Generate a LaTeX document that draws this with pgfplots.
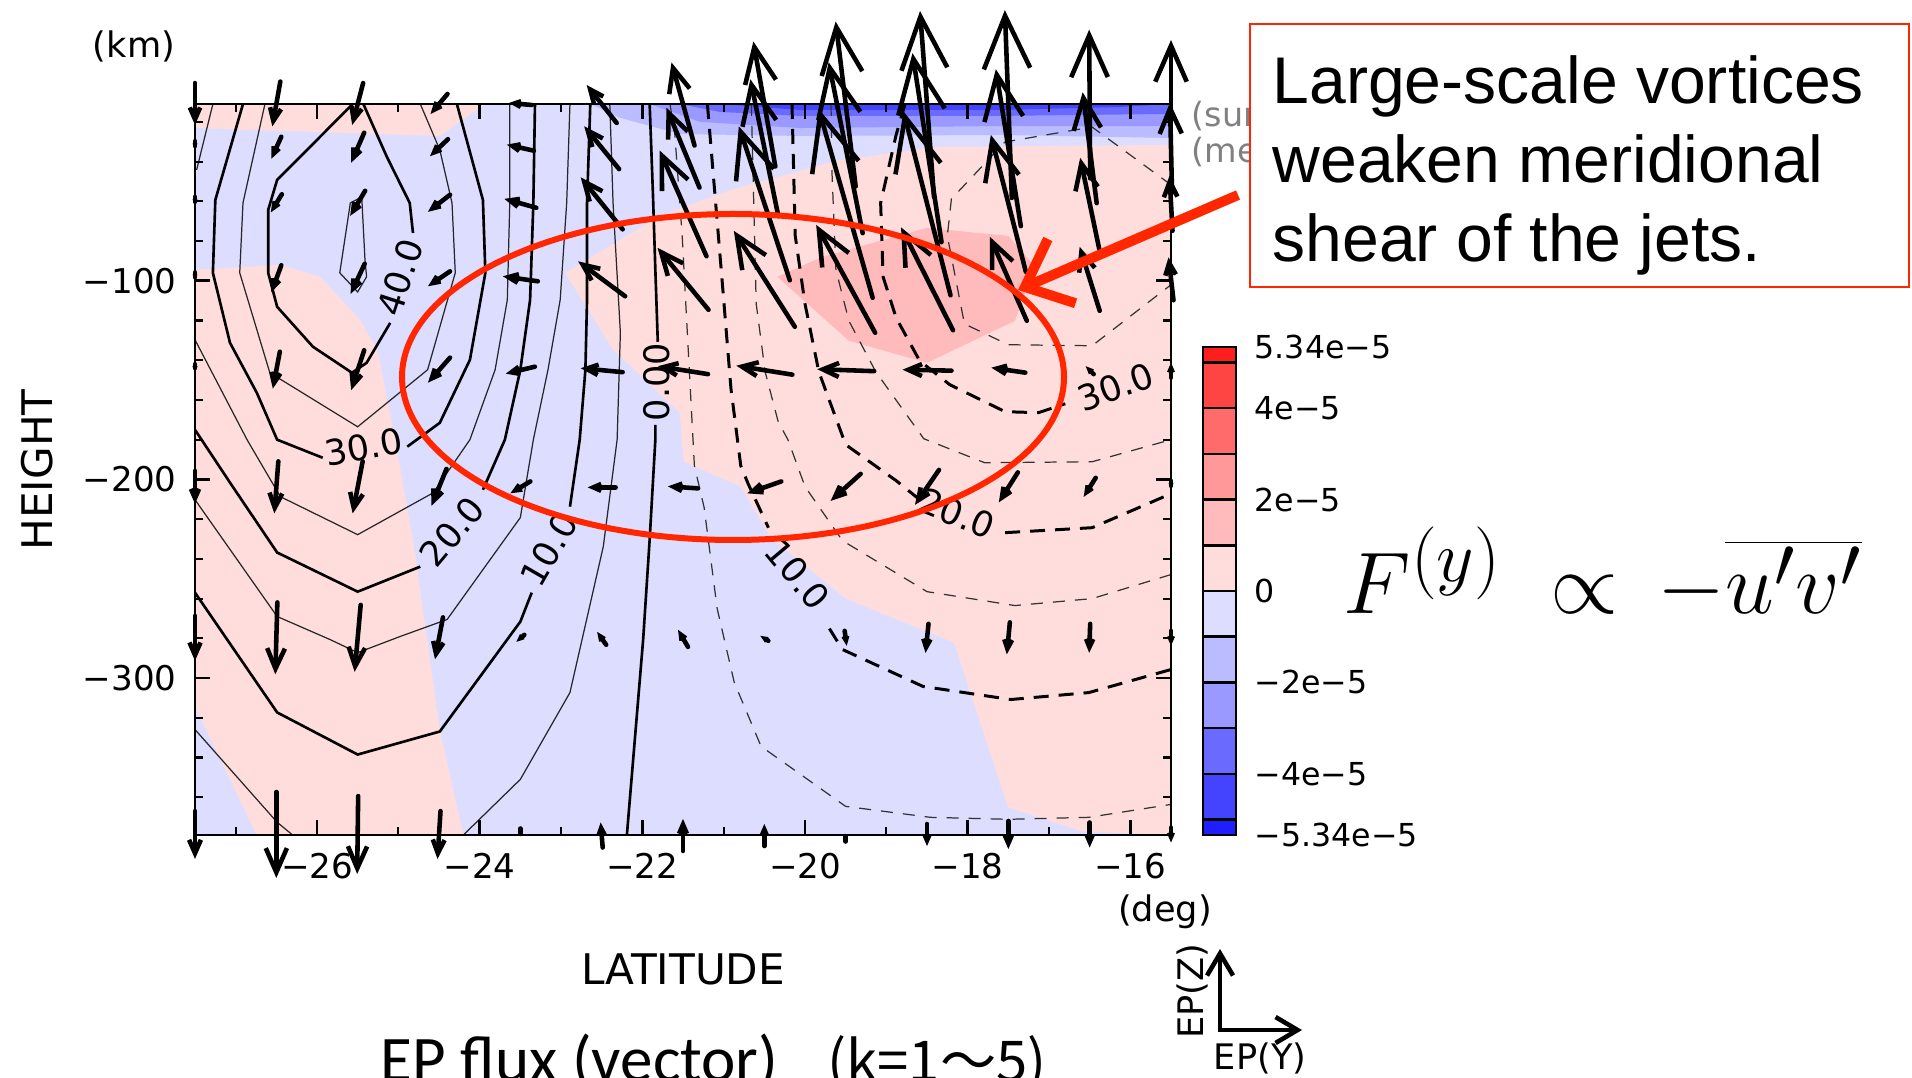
\documentclass[border=0pt]{standalone}
\usepackage{fontspec}
\setmainfont{Liberation Sans}
\newfontfamily\dv{DejaVu Sans}
\newfontfamily\carl{Carlito}
\newfontfamily\cjk{Noto Sans CJK JP}
\usepackage{pgfplots}
\usepackage{pgfplotstable}
\pgfplotsset{compat=1.18}
\usetikzlibrary{arrows.meta}

\definecolor{pk1}{RGB}{255,221,221}
\definecolor{pk2}{RGB}{255,187,187}
\definecolor{pk3}{RGB}{255,153,153}
\definecolor{pk4}{RGB}{255,106,106}
\definecolor{pk5}{RGB}{255,68,68}
\definecolor{pk6}{RGB}{255,30,30}
\definecolor{bl1}{RGB}{221,221,255}
\definecolor{bl2}{RGB}{187,187,255}
\definecolor{bl3}{RGB}{153,153,255}
\definecolor{bl4}{RGB}{106,106,255}
\definecolor{bl5}{RGB}{68,68,255}
\definecolor{bl6}{RGB}{30,30,255}
\definecolor{annot}{RGB}{255,38,0}

\pgfplotsset{
  thickc/.style={black, line width=0.75pt},
  thinc/.style={black!85, line width=0.35pt},
  thickd/.style={black, line width=0.85pt, dash pattern=on 1.5mm off 1mm},
  thind/.style={black!80, line width=0.35pt, dash pattern=on 1.2mm off 1mm},
}

% EP flux vectors: grid point (x,y) and components (u in deg, v in km)
\pgfplotstableread{
x y u v
-27.5 -11 0 -21.1
-26.5 -11 -0.098 -22.6
-25.5 -11 -0.135 -21.1
-24.5 -11 -0.209 -10.1
-23.5 -11 -0.283 1.0
-22.5 -11 -0.369 19.1
-21.5 -11 -0.283 41.8
-20.5 -11 -0.270 62.9
-19.5 -11 -0.246 83.0
-18.5 -11 -0.172 93.6
-17.5 -11 -0.086 94.6
-16.5 -11 -0.012 74.9
-15.5 -11 0 64.4
-27.5 -33 0 -1.5
-26.5 -33 -0.123 -11.1
-25.5 -33 -0.160 -15.1
-24.5 -33 -0.221 -8.6
-23.5 -33 -0.332 3.0
-22.5 -33 -0.430 21.6
-21.5 -33 -0.406 40.2
-20.5 -33 -0.344 68.9
-19.5 -33 -0.418 86.0
-18.5 -33 -0.357 95.1
-17.5 -33 -0.307 79.0
-16.5 -33 -0.172 55.8
-15.5 -33 -0.025 45.3
-27.5 -61 0 -1.5
-26.5 -61 -0.135 -9.1
-25.5 -61 -0.184 -12.6
-24.5 -61 -0.271 -8.6
-23.5 -61 -0.393 4.5
-22.5 -61 -0.516 26.2
-21.5 -61 -0.578 53.3
-20.5 -61 -0.627 77.5
-19.5 -61 -0.664 95.1
-18.5 -61 -0.578 92.6
-17.5 -61 -0.430 68.9
-16.5 -61 -0.234 45.8
-15.5 -61 -0.037 27.7
-27.5 -99 0 -1.5
-26.5 -99 -0.123 -13.6
-25.5 -99 -0.172 -15.1
-24.5 -99 -0.271 -7.5
-23.5 -99 -0.430 2.5
-22.5 -99 -0.578 17.6
-21.5 -99 -0.627 31.2
-20.5 -99 -0.750 48.3
-19.5 -99 -0.725 54.3
-18.5 -99 -0.639 51.8
-17.5 -99 -0.455 42.3
-16.5 -99 -0.246 32.2
-15.5 -99 -0.061 21.6
-27.5 -145 0 -2.0
-26.5 -145 -0.086 -18.6
-25.5 -145 -0.160 -20.1
-24.5 -145 -0.271 -12.6
-23.5 -145 -0.357 -3.5
-22.5 -145 -0.516 2.0
-21.5 -145 -0.615 4.0
-20.5 -145 -0.689 4.5
-19.5 -145 -0.701 1.0
-18.5 -145 -0.602 0.5
-17.5 -145 -0.418 2.5
-16.5 -145 -0.098 4.0
-15.5 -145 0 7.5
-27.5 -204 0 -16.6
-26.5 -204 -0.049 -26.2
-25.5 -204 -0.123 -26.2
-24.5 -204 -0.184 -18.6
-23.5 -204 -0.246 -6.0
-22.5 -204 -0.344 0
-21.5 -204 -0.369 1.0
-20.5 -204 -0.418 -6.0
-19.5 -204 -0.369 -13.6
-18.5 -204 -0.295 -17.6
-17.5 -204 -0.234 -15.1
-16.5 -204 -0.148 -9.6
-15.5 -204 0 -1.5
-27.5 -280 0 -22.6
-26.5 -280 -0.025 -36.2
-25.5 -280 -0.074 -33.7
-24.5 -280 -0.098 -21.1
-23.5 -280 -0.098 -3.5
-22.5 -280 -0.111 6.5
-21.5 -280 -0.123 8.6
-20.5 -280 -0.098 2.5
-19.5 -280 0.025 -7.5
-18.5 -280 -0.037 -14.6
-17.5 -280 -0.037 -16.1
-16.5 -280 -0.012 -14.6
-15.5 -280 0 -7.5
-27.5 -379 0 -24.1
-26.5 -379 0 -43.3
-25.5 -379 -0.012 -39.2
-24.5 -379 -0.037 -24.1
-23.5 -379 0 -1.5
-22.5 -379 -0.025 12.6
-21.5 -379 0 16.1
-20.5 -379 0 11.1
-19.5 -379 0 1.5
-18.5 -379 0 -11.1
-17.5 -379 0 -14.1
-16.5 -379 0 -12.6
-15.5 -379 0 -7.5
}\epflux

\begin{document}
\begin{tikzpicture}
\useasboundingbox (0,0) rectangle (191.2mm,107.7mm);
\begin{axis}[
  at={(19.5mm,24.2mm)}, anchor=south west,
  scale only axis, width=97.6mm, height=73.1mm,
  xmin=-27.5, xmax=-15.5, ymin=-379, ymax=-11,
  clip=false, axis on top,
  axis line style={line width=0.8pt},
  xtick={-26,-24,-22,-20,-18,-16},
  xticklabels={−26,−24,−22,−20,−18,−16},
  minor xtick={-27,-25,-23,-21,-19,-17},
  ytick={-300,-200,-100},
  yticklabels={−300,−200,−100},
  minor ytick={-360,-340,-320,-280,-260,-240,-220,-180,-160,-140,-120,-80,-60,-40,-20},
  tick align=inside,
  major tick length=1.5mm, minor tick length=0.8mm,
  major tick style={black, line width=0.8pt},
  minor tick style={black, line width=0.6pt},
  xticklabel style={font=\dv\fontsize{9.7}{11}\selectfont, yshift=-0.6mm},
  yticklabel style={font=\dv\fontsize{9.7}{11}\selectfont, xshift=-0.6mm},
  point meta min=0, point meta max=1000,
]
% ---- shading
\addplot[fill=bl1, draw=none] coordinates {(-27.5,-379) (-15.5,-379) (-15.5,-11) (-27.5,-11)} -- cycle;
\addplot[fill=pk1, draw=none] coordinates {(-27.5,-11) (-27.5,-23.1) (-24.49,-27.1) (-23.99,-12.5) (-23.87,-11)} -- cycle;
\addplot[fill=pk1, draw=none] coordinates {(-27.5,-94.5) (-26.45,-92.0) (-25.96,-98.0) (-25.47,-119.7) (-25.26,-134.7) (-25.19,-148.3) (-25.04,-180.0) (-24.82,-230.3) (-24.49,-325.9) (-24.20,-379) (-26.74,-379) (-27.5,-314.3)} -- cycle;
\addplot[fill=pk1, draw=none] coordinates {(-15.5,-31.6) (-18.34,-32.6) (-19.57,-39.2) (-20.92,-54.3) (-21.78,-67.3) (-22.95,-96.0) (-22.36,-134.7) (-21.54,-166.4) (-21.49,-191.1) (-20.79,-203.6) (-20.42,-229.3) (-19.50,-260.0) (-18.17,-282.1) (-17.50,-365.1) (-16.59,-377.2) (-15.5,-379)} -- cycle;
\addplot[fill=pk2, draw=none] coordinates {(-20.34,-98.0) (-19.79,-88.0) (-18.50,-73.4) (-17.50,-77.4) (-17.17,-93.0) (-17.42,-120.2) (-18.50,-141.3) (-19.46,-130.2)} -- cycle;
\addplot[fill=bl2, draw=none] coordinates {(-22.64,-11) (-22.27,-18.0) (-21.54,-26.1) (-20.06,-27.1) (-17.60,-26.6) (-15.5,-28.1) (-15.5,-11)} -- cycle;
\addplot[fill=bl3, draw=none] coordinates {(-21.91,-11) (-21.29,-20.0) (-20.06,-23.1) (-17.60,-22.1) (-15.5,-22.1) (-15.5,-11)} -- cycle;
\addplot[fill=bl4, draw=none] coordinates {(-21.54,-11) (-21.05,-15.0) (-20.06,-17.0) (-17.60,-17.0) (-15.5,-16.0) (-15.5,-11)} -- cycle;
\addplot[fill=bl5, draw=none] coordinates {(-21.05,-11) (-20.06,-14.0) (-17.60,-14.0) (-16.13,-12.5) (-15.5,-11)} -- cycle;
% ---- positive contours
\addplot[thinc] coordinates {(-25.72,-96.0) (-25.59,-60.8) (-25.45,-57.8) (-25.41,-89.5) (-25.39,-98.0) (-25.50,-105.6) (-25.72,-96.0)};
\addplot[thickc] coordinates {(-25.56,-11) (-26.49,-49.2) (-26.60,-64.3) (-26.60,-96.0) (-26.49,-113.1) (-26.05,-133.2) (-25.57,-146.3) (-25.39,-141.3) (-25.10,-121.2)};
\addplot[thickc] coordinates {(-24.82,-75.9) (-24.86,-60.8) (-25.14,-37.7) (-25.43,-11)};
\addplot[thinc] coordinates {(-26.64,-11) (-26.91,-60.8) (-26.95,-96.0) (-26.58,-146.3) (-25.50,-173.5) (-24.64,-144.8) (-24.30,-96.0) (-24.34,-60.8) (-24.49,-34.1) (-24.73,-11)};
\addplot[thickc] coordinates {(-26.91,-11) (-27.25,-59.3) (-27.28,-96.0) (-27.07,-131.2) (-26.74,-156.4) (-26.49,-180.0) (-25.93,-189.1)};
\addplot[thickc] coordinates {(-24.89,-183.5) (-24.49,-171.5) (-24.12,-139.8) (-23.93,-96.0) (-23.96,-59.3) (-24.28,-11)};
\addplot[thinc] coordinates {(-27.28,-11) (-27.48,-44.2)};
\addplot[thinc] coordinates {(-27.5,-129.7) (-26.86,-180.0) (-26.45,-208.7) (-25.50,-227.8) (-24.57,-206.7) (-24.12,-180.0) (-23.81,-144.8) (-23.66,-109.6) (-23.63,-60.8) (-23.63,-11)};
\addplot[thickc] coordinates {(-27.5,-175.0) (-27.07,-201.6) (-26.49,-236.8) (-25.50,-256.5) (-24.73,-243.9)};
\addplot[thickc] coordinates {(-23.96,-205.2) (-23.69,-180.0) (-23.50,-144.8) (-23.38,-109.6) (-23.34,-60.8) (-23.32,-11)};
\addplot[thinc] coordinates {(-27.5,-210.2) (-26.49,-269.0) (-25.84,-280.6) (-25.50,-287.2) (-24.98,-279.1) (-24.40,-270.5) (-23.50,-219.2) (-23.34,-180.0) (-23.16,-144.8) (-23.01,-109.6) (-22.93,-60.8) (-22.89,-11)};
\addplot[thickc] coordinates {(-27.5,-257.0) (-26.49,-317.3) (-25.50,-338.5) (-24.49,-326.9) (-23.50,-271.6) (-23.36,-257.0)};
\addplot[thickc] coordinates {(-22.89,-213.7) (-22.77,-180.0) (-22.70,-144.8) (-22.68,-109.6) (-22.68,-60.8) (-22.64,-11)};
\addplot[thinc] coordinates {(-27.5,-325.9) (-26.49,-372.6) (-26.30,-379)};
\addplot[thinc] coordinates {(-24.20,-379) (-23.50,-351.0) (-22.89,-307.3) (-22.48,-233.8) (-22.31,-180.0) (-22.27,-126.2) (-22.36,-60.8) (-22.40,-11)};
\addplot[thickc] coordinates {(-22.19,-379) (-21.99,-280.6) (-21.91,-230.3) (-21.84,-180.0) (-21.84,-172.5)};
\addplot[thickc] coordinates {(-21.81,-130.7) (-21.84,-94.5) (-21.87,-55.8) (-21.91,-11)};
% ---- negative contours
\addplot[thind] coordinates {(-21.66,-11) (-21.60,-26.6) (-21.51,-77.4) (-21.36,-193.1) (-21.24,-214.2) (-21.08,-265.0) (-20.87,-302.2) (-20.54,-334.4) (-19.50,-364.6) (-18.46,-370.1) (-17.50,-371.1) (-16.51,-370.1) (-15.5,-363.6)};
\addplot[thickd] coordinates {(-21.20,-11) (-21.03,-94.5) (-20.91,-154.4) (-20.79,-193.1) (-20.70,-202.1) (-20.45,-224.3)};
\addplot[thickd] coordinates {(-19.70,-275.1) (-19.54,-285.6) (-18.55,-304.2) (-17.47,-310.8) (-16.51,-307.3) (-15.5,-295.7)};
\addplot[thind] coordinates {(-20.66,-11) (-20.60,-111.6) (-20.49,-145.8) (-20.33,-170.9) (-20.21,-180.0) (-20.00,-203.6) (-19.54,-230.8) (-18.50,-256.5) (-17.42,-263.5) (-16.47,-260.0) (-15.5,-247.9)};
\addplot[thickd] coordinates {(-20.16,-11) (-20.12,-77.4) (-20.00,-111.6) (-19.83,-145.8) (-19.50,-182.5) (-18.88,-200.6) (-18.62,-209.2)};
\addplot[thickd] coordinates {(-17.54,-226.8) (-16.47,-224.3) (-15.5,-207.2)};
\addplot[thind] coordinates {(-19.68,-11) (-19.67,-43.7) (-19.62,-94.5) (-19.46,-120.2) (-19.13,-145.8) (-18.54,-179.5) (-17.79,-191.6) (-16.47,-191.1) (-15.5,-180.0)};
\addplot[thickd] coordinates {(-18.77,-11) (-18.88,-26.6) (-19.07,-60.8) (-19.04,-98.0) (-18.88,-118.6) (-18.59,-140.3) (-18.22,-152.3) (-17.54,-165.9) (-17.13,-166.4) (-16.80,-161.9)};
\addplot[thind] coordinates {(-15.5,-51.7) (-16.47,-22.6) (-17.54,-30.1) (-18.20,-58.8) (-18.25,-77.4) (-18.04,-121.7) (-17.50,-132.2) (-16.47,-132.7) (-15.5,-102.0)};
% ---- contour labels
\begin{scope}[every node/.style={font=\dv\fontsize{10}{12}\selectfont, inner sep=0pt}]
\node[rotate=72] at (axis cs:-24.98,-98.5) {40.0};
\node[rotate=10] at (axis cs:-25.42,-183.5) {30.0};
\node[rotate=50] at (axis cs:-24.34,-226.3) {20.0};
\node[rotate=60] at (axis cs:-23.15,-235.3) {10.0};
\node[rotate=90] at (axis cs:-21.82,-151.0) {0.00};
\node[rotate=-50] at (axis cs:-20.09,-247.9) {10.0};
\node[rotate=-22] at (axis cs:-18.13,-217.2) {20.0};
\node[rotate=20] at (axis cs:-16.18,-153.4) {30.0};
\end{scope}
% ---- EP flux vectors
\addplot[black, line width=1.3pt, line cap=round,
  point meta={sqrt((81.33*\thisrow{u})^2+(1.988*\thisrow{v})^2)},
  quiver={u=\thisrow{u}, v=\thisrow{v},
    every arrow/.append style={/utils/exec={\pgfmathsetmacro\hl{0.08*\pgfplotspointmetatransformed}\pgfmathsetmacro\hw{0.07*\pgfplotspointmetatransformed}},
      -{Straight Barb[length=\hl pt, width=\hw pt]}}},
] table[x expr=\thisrow{x}-0.5*\thisrow{u}, y expr=\thisrow{y}-0.5*\thisrow{v}] {\epflux};
\end{axis}

\begin{scope}[shift={(0,107.7mm)}, x=0.1mm, y=-0.1mm]
% axis texts
\node[font=\dv\fontsize{10}{12}\selectfont] at (134,46) {(km)};
\node[font=\dv\fontsize{10}{12}\selectfont] at (1165,912) {(deg)};
\node[rotate=90, font=\dv\fontsize{12}{14}\selectfont] at (37,470) {HEIGHT};
\node[font=\dv\fontsize{12}{14}\selectfont] at (683,969) {LATITUDE};
\node[anchor=west, inner sep=0, text=black!50, font=\dv\fontsize{9.5}{11}\selectfont] at (1191,116) {(surface)};
\node[anchor=west, inner sep=0, text=black!50, font=\dv\fontsize{9.5}{11}\selectfont] at (1191,152) {(mean)};
% colour bar
\foreach \ya/\yb/\c in {347/362.5/pk6, 362.5/408.2/pk5, 408.2/453.9/pk4, 453.9/499.6/pk3, 499.6/545.3/pk2, 545.3/591/pk1, 591/636.7/bl1, 636.7/682.4/bl2, 682.4/728.1/bl3, 728.1/773.8/bl4, 773.8/819.5/bl5, 819.5/835/bl6}
  {\fill[\c] (1203,\ya) rectangle (1236,\yb); \draw[line width=0.7pt] (1203,\ya) -- (1236,\ya);}
\draw[line width=0.8pt] (1203,347) rectangle (1236,835);
\begin{scope}[every node/.style={anchor=west, inner sep=0, font=\dv\fontsize{9}{11}\selectfont}]
\node at (1254,347) {5.34e−5};
\node at (1254,408) {4e−5};
\node at (1254,500) {2e−5};
\node at (1254,591) {0};
\node at (1254,682) {−2e−5};
\node at (1254,774) {−4e−5};
\node at (1254,835) {−5.34e−5};
\end{scope}
% EP legend
\draw[line width=1.3pt, -{Straight Barb[length=2.2mm, width=2.6mm]}] (1220,1030) -- (1220,949);
\draw[line width=1.3pt, -{Straight Barb[length=2.2mm, width=2.6mm]}] (1218,1030) -- (1302,1030);
\node[rotate=90, font=\dv\fontsize{10}{12}\selectfont] at (1192,991) {EP(Z)};
\node[font=\dv\fontsize{10}{12}\selectfont] at (1260,1058) {EP(Y)};
% formula
\node[anchor=base west, inner sep=0, font=\fontsize{28}{33}\selectfont] at (1343,613) {$F^{(y)}\;\propto\,-\overline{u'v'}$};
% bottom title
\node[anchor=base west, inner sep=0, font=\carl\fontsize{18.5}{22}\selectfont] at (380,1081) {EP flux (vector)};
\node[anchor=base west, inner sep=0, font=\cjk\fontsize{16}{20}\selectfont] at (827,1081) {(k=1〜5)};
% annotation box
\draw[annot, line width=0.5pt, fill=white] (1250,24) rectangle (1909,287);
\begin{scope}[every node/.style={anchor=base west, inner sep=0, font=\fontsize{18.8}{22}\selectfont}]
\node at (1272,104) {Large-scale vortices};
\node at (1272,183) {weaken meridional};
\node at (1272,262) {shear of the jets.};
\end{scope}
\draw[annot, line width=1mm, -{Straight Barb[length=4mm, width=7mm]}] (1238,195) -- (1018,290);
\draw[annot, line width=0.6mm] (733,377) ellipse [x radius=33.1mm, y radius=16.3mm];
\end{scope}
\end{tikzpicture}
\end{document}
